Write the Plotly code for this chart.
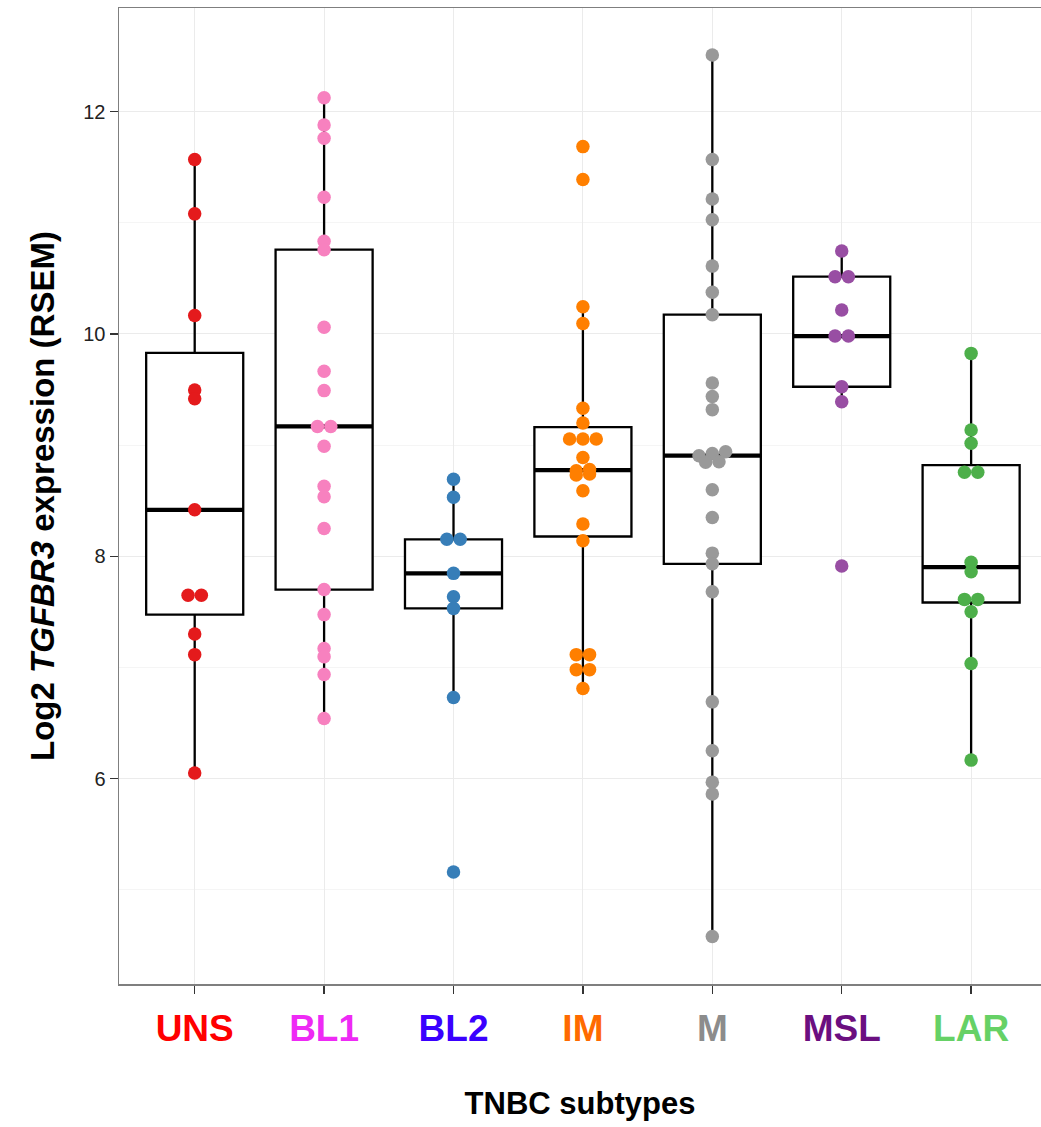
import numpy as np
import plotly.graph_objects as go

# ---------------- data ----------------
categories = ["UNS", "BL1", "BL2", "IM", "M", "MSL", "LAR"]
label_colors = ["#FF0000", "#EE2AF5", "#3A00FF", "#FF6A00", "#8C8C8C", "#6B0F80", "#66D166"]
point_colors = ["#E41A1C", "#F781BF", "#377EB8", "#FF7F00", "#999999", "#984EA3", "#4DAF4A"]

uns = [11.57, 11.08, 10.165, 9.495, 9.417, 8.418, 7.65, 7.65, 7.30, 7.115, 6.05]
bl1 = [12.125, 11.88, 11.76, 11.23, 10.834, 10.758, 10.06, 9.664, 9.49, 9.168, 9.168,
       8.99, 8.63, 8.535, 8.25, 7.70, 7.475, 7.17, 7.097, 6.937, 6.54]
bl2 = [8.692, 8.53, 8.152, 8.152, 7.846, 7.636, 7.531, 6.73, 5.16]
im = [11.685, 11.39, 10.244, 10.094, 9.332, 9.198, 9.055, 9.055, 9.055, 8.889,
      8.78, 8.77, 8.74, 8.73, 8.59, 8.29, 8.14, 7.115, 7.115, 6.98, 6.98, 6.81]
m = [12.51, 11.57, 11.214, 11.027, 10.61, 10.375, 10.173, 9.559, 9.437, 9.319,
     8.94, 8.925, 8.905, 8.85, 8.845, 8.598, 8.348, 8.028, 7.932, 7.68,
     6.69, 6.25, 5.968, 5.862, 4.58]
msl = [10.746, 10.515, 10.515, 10.215, 9.981, 9.981, 9.525, 9.39, 7.912]
lar = [9.825, 9.135, 9.016, 8.755, 8.755, 7.945, 7.86, 7.612, 7.612, 7.50, 7.036, 6.166]

y_ticks = [6, 8, 10, 12]

groups = [uns, bl1, bl2, im, m, msl, lar]

# ---------------- helpers ----------------
BOX_W = 0.75
STEP = 0.103       # horizontal spacing of tied points (data units)
TIE_TOL = 0.025    # values closer than this are placed side by side


def box_stats(vals):
    a = np.asarray(vals, dtype=float)
    q1, med, q3 = np.percentile(a, [25, 50, 75])
    iqr = q3 - q1
    lo = a[a >= q1 - 1.5 * iqr].min()
    hi = a[a <= q3 + 1.5 * iqr].max()
    return q1, med, q3, lo, hi


def swarm_offsets(vals):
    a = np.asarray(vals, dtype=float)
    order = np.argsort(a)
    offs = np.zeros(len(a))
    clusters = []
    cur = [order[0]]
    for k in order[1:]:
        if a[k] - a[cur[-1]] <= TIE_TOL:
            cur.append(k)
        else:
            clusters.append(cur)
            cur = [k]
    clusters.append(cur)
    for c in clusters:
        n = len(c)
        for j, idx in enumerate(c):
            offs[idx] = (j - (n - 1) / 2) * STEP
    return offs


fig = go.Figure()

stats = [box_stats(g) for g in groups]
xs = list(range(len(categories)))

fig.add_trace(go.Box(
    x=xs,
    q1=[s[0] for s in stats],
    median=[s[1] for s in stats],
    q3=[s[2] for s in stats],
    lowerfence=[s[3] for s in stats],
    upperfence=[s[4] for s in stats],
    width=BOX_W,
    whiskerwidth=0,
    fillcolor="white",
    line=dict(color="black", width=2.3),
    boxpoints=False,
    hoverinfo="skip",
    showlegend=False,
))

# thick median bars
for i, s in enumerate(stats):
    fig.add_trace(go.Scatter(
        x=[i - BOX_W / 2, i + BOX_W / 2], y=[s[1], s[1]],
        mode="lines", line=dict(color="black", width=4.3),
        hoverinfo="skip", showlegend=False,
    ))

# beeswarm points
for i, g in enumerate(groups):
    offs = swarm_offsets(g)
    fig.add_trace(go.Scatter(
        x=[i + o for o in offs], y=g, mode="markers",
        marker=dict(color=point_colors[i], size=13.5, line=dict(width=0)),
        showlegend=False, name=categories[i],
    ))

tick_text = [f'<span style="color:{c}"><b>{t}</b></span>' for t, c in zip(categories, label_colors)]

fig.update_layout(
    width=1041, height=1127,
    margin=dict(l=119, r=0, t=8, b=143),
    paper_bgcolor="white", plot_bgcolor="white",
    hovermode=False,
    font=dict(family="Liberation Sans, Arial, sans-serif", color="black"),
    xaxis=dict(
        range=[-0.585, 6.54],
        tickmode="array", tickvals=xs, ticktext=tick_text,
        tickfont=dict(size=37),
        ticks="outside", ticklen=8, tickwidth=1.5, tickcolor="#333333",
        ticklabelstandoff=3,
        showgrid=True, gridcolor="#ebebeb", gridwidth=1,
        showline=True, linecolor="#7f7f7f", linewidth=1.5, mirror=True,
        zeroline=False,
        title=dict(text="<b>TNBC subtypes</b>", font=dict(size=31), standoff=44),
    ),
    yaxis=dict(
        range=[4.152, 12.932],
        tickmode="array", tickvals=y_ticks, ticktext=[str(v) for v in y_ticks],
        tickfont=dict(size=20, color="#222222"),
        ticks="outside", ticklen=8, tickwidth=1.5, tickcolor="#333333",
        showgrid=True, gridcolor="#ebebeb", gridwidth=1,
        minor=dict(dtick=2, tick0=5, showgrid=True, gridcolor="#f5f5f5", gridwidth=1, ticks=""),
        showline=True, linecolor="#7f7f7f", linewidth=1.5,
        zeroline=False,
        title=dict(text="<b>Log2 <i>TGFBR3</i> expression (RSEM)</b>", font=dict(size=33), standoff=18),
    ),
)

fig.write_html(
    "out.html",
    config={"displayModeBar": False, "staticPlot": True},
    post_script="document.body.style.margin='0';document.body.style.overflow='hidden';",
)
